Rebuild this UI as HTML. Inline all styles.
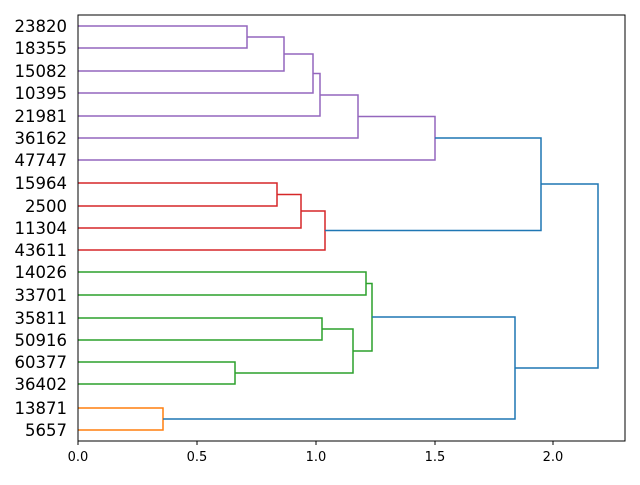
<!DOCTYPE html>
<html><head><meta charset="utf-8"><style>body{margin:0;background:#fff}</style></head><body>
<svg width="640" height="480" xmlns="http://www.w3.org/2000/svg" font-family="DejaVu Sans, Liberation Sans, sans-serif">
<rect width="640" height="480" fill="#fff"/>
<g fill="none" stroke-width="1.5">
<g stroke="#9467bd">
<path d="M78 26H247V48H78"/>
<path d="M247 37H284V71H78"/>
<path d="M284 54H313V93H78"/>
<path d="M313 73.5H320V116H78"/>
<path d="M320 95H358V138H78"/>
<path d="M358 116.5H435V160H78"/>
</g>
<g stroke="#d62728">
<path d="M78 183H277V206H78"/>
<path d="M277 194.5H301V228H78"/>
<path d="M301 211H325V250H78"/>
</g>
<g stroke="#2ca02c">
<path d="M78 272H366V295H78"/>
<path d="M78 318H322V340H78"/>
<path d="M78 362H235V384H78"/>
<path d="M322 329H353V373H235"/>
<path d="M366 283.5H372V351H353"/>
</g>
<g stroke="#ff7f0e">
<path d="M78 408H163V430H78"/>
</g>
<g stroke="#1f77b4">
<path d="M435 138H541V230.5H325"/>
<path d="M372 317H515V419H163"/>
<path d="M541 184H598V368H515"/>
</g>
</g>
<rect x="78" y="15" width="547" height="426" fill="none" stroke="#000" stroke-width="1"/>
<g stroke="#000">
<line x1="78" y1="441" x2="78" y2="445"/><line x1="197" y1="441" x2="197" y2="445"/>
<line x1="316" y1="441" x2="316" y2="445"/><line x1="435" y1="441" x2="435" y2="445"/>
<line x1="553" y1="441" x2="553" y2="445"/>
</g>
<g font-size="13" text-anchor="middle" fill="#000">
<text x="78" y="461">0.0</text><text x="197" y="461">0.5</text><text x="316" y="461">1.0</text>
<text x="435" y="461">1.5</text><text x="553" y="461">2.0</text>
</g>
<g font-size="16.5" text-anchor="end" fill="#000">
<text x="67" y="32">23820</text><text x="67" y="54">18355</text><text x="67" y="77">15082</text>
<text x="67" y="99">10395</text><text x="67" y="122">21981</text><text x="67" y="144">36162</text>
<text x="67" y="166">47747</text><text x="67" y="189">15964</text><text x="67" y="212">2500</text>
<text x="67" y="234">11304</text><text x="67" y="256">43611</text><text x="67" y="278">14026</text>
<text x="67" y="301">33701</text><text x="67" y="324">35811</text><text x="67" y="346">50916</text>
<text x="67" y="368">60377</text><text x="67" y="390">36402</text><text x="67" y="414">13871</text>
<text x="67" y="436">5657</text>
</g>
</svg>
</body></html>
